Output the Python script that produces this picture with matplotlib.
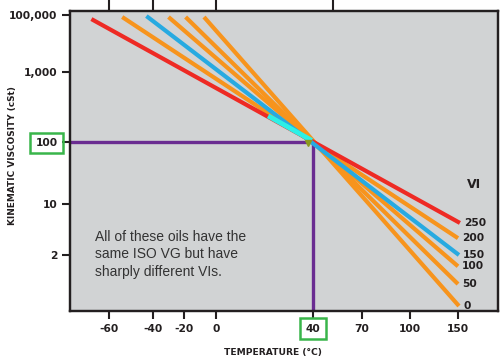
import numpy as np
import matplotlib
matplotlib.use("Agg")
import matplotlib.pyplot as plt

# tick layout of the (schematic) Walther-type chart: value -> position on the sheet
temp_ticks = [-60, -40, -20, 0, 40, 70, 100, 150]
temp_pos = [109, 153, 184, 216, 313, 362, 410, 458]
visc_ticks = [2, 10, 100, 1000, 100000]
visc_labels = ["2", "10", "100", "1,000", "100,000"]
visc_pos = [-255, -204, -142, -72, -15]
top_ticks = [-60, -40, 0, 52]

# the six oils, all 100 cSt at 40 C
vi = [250, 200, 150, 100, 50, 0]
t_start = [-68, -54, -43, -30, -19, -7.5]
v_start = [72000, 85000, 92000, 85000, 85000, 85000]
t_end = [152, 150, 151, 150, 150, 151]
v_end = [5.5, 3.4, 2.0, 1.4, 0.8, 0.4]
colors = ["#ee2a24", "#f7941d", "#27aae1", "#f7941d", "#f7941d", "#f7941d"]

iso_temp = 40
iso_visc = 100
cyan_t = [21.5, 39.5]
cyan_v = [236, 105]


def piecewise(xs, ys):
    xs = np.asarray(xs, float)
    ys = np.asarray(ys, float)

    def f(v):
        v = np.asarray(v, float)
        out = np.interp(v, xs, ys)
        lo = ys[0] + (v - xs[0]) * (ys[1] - ys[0]) / (xs[1] - xs[0])
        hi = ys[-1] + (v - xs[-1]) * (ys[-1] - ys[-2]) / (xs[-1] - xs[-2])
        out = np.where(v < xs[0], lo, out)
        out = np.where(v > xs[-1], hi, out)
        return out
    return f


x_fwd = piecewise(temp_ticks, temp_pos)
x_inv = piecewise(temp_pos, temp_ticks)
logv = np.log10(visc_ticks)
_yf = piecewise(logv, visc_pos)
_yi = piecewise(visc_pos, logv)


def y_fwd(v):
    return _yf(np.log10(np.clip(np.asarray(v, float), 1e-9, None)))


def y_inv(p):
    return 10 ** _yi(p)


fig = plt.figure(figsize=(5, 3.6), dpi=100)
ax = fig.add_axes([70 / 500, 1 - 311 / 360, 428 / 500, 300 / 360])
ax.set_facecolor("#d1d3d4")
ax.set_xscale("function", functions=(x_fwd, x_inv))
ax.set_yscale("function", functions=(y_fwd, y_inv))
xlim = (float(x_inv(70)), float(x_inv(498)))
ylim = (float(y_inv(-311)), float(y_inv(-11)))
ax.set_xlim(xlim)
ax.set_ylim(ylim)

dark = "#231f20"
for s in ax.spines.values():
    s.set_linewidth(1.6)
    s.set_color(dark)

tickfont = dict(family="DejaVu Sans", weight="bold", size=7.7)
ax.set_xticks(temp_ticks)
ax.set_xticklabels([str(t) for t in temp_ticks], **tickfont, color=dark)
ax.set_yticks(visc_ticks)
ax.set_yticklabels(visc_labels, **tickfont, color=dark)
ax.minorticks_off()
ax.tick_params(direction="out", length=6, width=1.5, color=dark, pad=3)

green = "#39b54a"
for lab in ax.get_yticklabels():
    if lab.get_text() == "100":
        lab.set_bbox(dict(boxstyle="square,pad=0.5", fc="none", ec=green, lw=1.8))
for lab in ax.get_xticklabels():
    if lab.get_text() == "40":
        lab.set_bbox(dict(boxstyle="square,pad=0.5", fc="none", ec=green, lw=1.8))

# top ticks
axt = ax.twiny()
axt.set_xscale("function", functions=(x_fwd, x_inv))
axt.set_xlim(xlim)
axt.set_xticks(top_ticks)
axt.set_xticklabels([])
axt.minorticks_off()
axt.tick_params(direction="out", length=8, width=1.5, color=dark)
for s in axt.spines.values():
    s.set_linewidth(1.6)
    s.set_color(dark)

# ISO VG reference lines
purple = "#6a2c91"
ax.plot([xlim[0], iso_temp], [iso_visc, iso_visc], color=purple, lw=2.4, zorder=2,
        solid_capstyle="butt")
ax.plot([iso_temp, iso_temp], [ylim[0], iso_visc], color=purple, lw=2.4, zorder=2,
        solid_capstyle="butt")

order = [5, 4, 3, 1, 0, 2]
for i in order:
    ax.plot([t_start[i], t_end[i]], [v_start[i], v_end[i]], color=colors[i],
            lw=3.0, zorder=3, solid_capstyle="butt")
ax.plot(cyan_t, cyan_v, color="#2ef0e6", lw=3.6, zorder=4, solid_capstyle="butt")
ax.plot([38], [96], marker="v", ms=4, color="#8c9a1e", zorder=5)

for i in range(len(vi)):
    ax.annotate(str(vi[i]), xy=(t_end[i], v_end[i]), xytext=(3, 0),
                textcoords="offset points", va="center", ha="left",
                **tickfont, color=dark)
ax.annotate("VI", xy=(t_end[0], v_end[0]), xytext=(10, 28),
            textcoords="offset points", va="center", ha="center",
            family="DejaVu Sans", weight="bold", size=9, color=dark)

ax.text(95 / 500, 1 - 230 / 360, "All of these oils have the\nsame ISO VG but have\nsharply different VIs.",
        transform=fig.transFigure, ha="left", va="top", family="Liberation Sans",
        size=10, linespacing=1.3, color="#333333")

fig.text(273 / 500, 1 - 352 / 360, "TEMPERATURE (°C)", ha="center", va="center",
         family="DejaVu Sans", weight="bold", size=6.6, color=dark)
fig.text(13 / 500, 1 - 156 / 360, "KINEMATIC VISCOSITY (cSt)", ha="center", va="center",
         rotation=90, family="DejaVu Sans", weight="bold", size=6.4, color=dark)

fig.savefig("out.png", dpi=100)
